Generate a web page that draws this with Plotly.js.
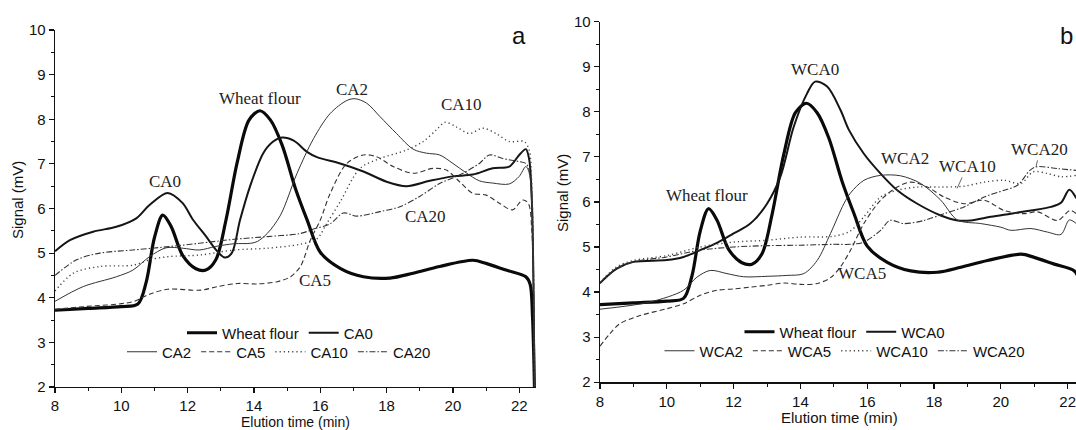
<!DOCTYPE html>
<html>
<head>
<meta charset="utf-8">
<script src="https://cdn.plot.ly/plotly-3.0.1.min.js"></script>
<style>html,body{margin:0;padding:0;background:#fff;}#chart{width:1076px;height:430px;}</style>
</head>
<body>
<div id="chart"></div>
<script>
// ---- Data ----
const xWheat = [8, 9, 10, 10.5, 10.75, 11.0, 11.25, 11.5, 11.85, 12.25, 12.55, 12.85, 13.15, 13.5, 13.85, 14.18, 14.5, 14.85, 15.25, 15.6, 16.0, 16.6, 17.3, 18.1, 18.8, 19.6, 20.6, 21.0, 21.6, 22.2, 22.33, 22.4, 22.46];
const yWheat = [3.72, 3.76, 3.8, 3.86, 4.35, 5.35, 5.85, 5.6, 4.95, 4.65, 4.62, 4.85, 5.72, 7.05, 7.98, 8.19, 7.98, 7.42, 6.45, 5.75, 5.02, 4.66, 4.47, 4.44, 4.55, 4.7, 4.84, 4.77, 4.62, 4.47, 4.3, 3.6, 2.0];

const xCA0 = [8, 8.45, 9.15, 9.85, 10.45, 10.85, 11.4, 11.85, 12.15, 12.55, 12.85, 13.12, 13.33, 13.58, 13.88, 14.28, 14.58, 14.85, 15.2, 15.6, 15.9, 16.6, 17.3, 18.0, 18.6, 19.3, 20.0, 20.6, 21.2, 21.7, 22.0, 22.2, 22.3, 22.38, 22.46];
const yCA0 = [5.04, 5.29, 5.48, 5.59, 5.78, 6.08, 6.35, 6.12, 5.76, 5.38, 5.08, 4.9, 5.0, 5.74, 6.49, 7.24, 7.5, 7.59, 7.52, 7.27, 7.15, 7.01, 6.83, 6.6, 6.5, 6.62, 6.72, 6.76, 6.9, 6.94, 7.2, 7.33, 7.1, 6.2, 2.0];

const xCA2 = [8, 8.85, 9.85, 10.35, 10.85, 11.35, 11.85, 12.35, 12.85, 13.4, 13.9, 14.1, 14.4, 14.8, 15.3, 15.8, 16.3, 16.8, 17.05, 17.4, 17.8, 18.3, 18.8, 19.2, 19.6, 20.0, 20.4, 20.8, 21.2, 21.7, 22.0, 22.2, 22.3, 22.38, 22.46];
const yCA2 = [3.92, 4.25, 4.47, 4.62, 4.92, 5.12, 5.11, 5.07, 5.15, 5.21, 5.22, 5.26, 5.44, 5.85, 6.79, 7.57, 8.13, 8.42, 8.46, 8.36, 8.06, 7.68, 7.33, 7.24, 7.2, 7.01, 6.8, 6.62, 6.57, 6.55, 6.72, 6.94, 6.8, 6.0, 2.0];

const xCA5 = [8, 8.85, 10.35, 10.85, 11.4, 12.4, 12.9, 13.5, 14.1, 14.7, 15.1, 15.4, 15.7, 16.0, 16.3, 16.8, 17.3, 17.7, 18.2, 18.8, 19.4, 19.8, 20.2, 20.6, 21.0, 21.4, 21.8, 22.1, 22.27, 22.38, 22.46];
const yCA5 = [3.74, 3.8, 3.91, 4.08, 4.19, 4.17, 4.25, 4.32, 4.31, 4.36, 4.47, 4.7, 5.29, 5.74, 6.34, 7.01, 7.2, 7.16, 6.94, 6.79, 6.9, 6.86, 6.6, 6.34, 6.3, 6.12, 5.97, 6.19, 6.12, 5.5, 2.0];

const xCA10 = [8, 8.55, 9.35, 10.35, 10.85, 11.4, 12.4, 13.4, 14.4, 15.4, 15.9, 16.2, 16.6, 17.2, 17.8, 18.6, 19.1, 19.5, 19.76, 20.1, 20.5, 20.9, 21.3, 21.7, 22.15, 22.3, 22.38, 22.46];
const yCA10 = [4.15, 4.55, 4.7, 4.73, 4.85, 4.92, 4.96, 5.07, 5.11, 5.2, 5.32, 5.67, 6.15, 6.9, 7.12, 7.31, 7.5, 7.76, 7.93, 7.83, 7.68, 7.8, 7.68, 7.5, 7.5, 7.31, 6.5, 2.0];

const xCA20 = [8, 8.65, 9.35, 10.35, 11.35, 12.35, 13.4, 14.4, 15.4, 15.8, 16.3, 16.7, 17.1, 17.8, 18.4, 19.0, 19.6, 20.2, 20.8, 21.1, 21.5, 22.0, 22.2, 22.3, 22.38, 22.46];
const yCA20 = [4.5, 4.85, 5.0, 5.07, 5.14, 5.22, 5.31, 5.37, 5.44, 5.54, 5.66, 5.9, 5.83, 5.93, 6.04, 6.27, 6.56, 6.75, 7.01, 7.2, 7.12, 7.05, 7.01, 6.86, 6.3, 2.0];

const xWCA0 = [8, 8.5, 9, 10, 10.5, 11, 11.5, 12, 12.5, 13, 13.4, 13.8, 14.2, 14.44, 14.8, 15.2, 15.45, 15.9, 16.4, 16.9, 17.5, 18.2, 18.7, 19.1, 19.7, 20.3, 20.9, 21.5, 21.8, 22.05, 22.26];
const yWCA0 = [4.2, 4.52, 4.67, 4.71, 4.78, 4.93, 5.09, 5.3, 5.52, 5.96, 6.56, 7.67, 8.41, 8.67, 8.56, 8.04, 7.6, 7.07, 6.63, 6.26, 5.96, 5.7, 5.59, 5.59, 5.67, 5.74, 5.81, 5.89, 5.98, 6.27, 6.08];

const xWCA2 = [8, 9.5, 10.5, 10.9, 11.3, 11.8, 12.3, 13.0, 13.6, 14.1, 14.5, 14.9, 15.3, 15.5, 15.9, 16.4, 17.0, 17.6, 18.2, 18.7, 19.4, 20.0, 20.3, 20.9, 21.4, 21.8, 22.05, 22.26];
const yWCA2 = [3.62, 3.78, 4.04, 4.33, 4.48, 4.41, 4.34, 4.35, 4.37, 4.41, 4.7, 5.3, 5.96, 6.2, 6.48, 6.59, 6.58, 6.41, 6.04, 5.6, 5.52, 5.44, 5.37, 5.41, 5.33, 5.28, 5.6, 5.52];

const xWCA5 = [8, 8.3, 8.6, 9.2, 10, 10.5, 11, 11.5, 12, 12.5, 13, 13.5, 14, 14.5, 14.9, 15.2, 15.5, 15.9, 16.4, 16.9, 17.3, 17.8, 18.3, 18.9, 19.5, 20.1, 20.7, 21.1, 21.7, 22.07, 22.26];
const yWCA5 = [2.8, 3.08, 3.3, 3.48, 3.63, 3.74, 3.93, 4.04, 4.07, 4.11, 4.15, 4.2, 4.17, 4.19, 4.32, 4.56, 4.93, 5.52, 6.04, 6.33, 6.44, 6.33, 6.11, 5.96, 6.04, 5.81, 5.74, 5.78, 5.59, 5.81, 5.74];

const xWCA10 = [8, 8.5, 9, 10, 11, 12, 13, 14, 15, 15.5, 15.9, 16.4, 16.9, 17.5, 18.2, 18.9, 19.5, 20.1, 20.6, 20.97, 21.4, 21.8, 22.26];
const yWCA10 = [4.22, 4.56, 4.7, 4.81, 5.0, 5.11, 5.15, 5.22, 5.24, 5.36, 5.67, 6.11, 6.26, 6.33, 6.33, 6.35, 6.44, 6.48, 6.41, 6.67, 6.63, 6.56, 6.59];

const xWCA20 = [8, 8.5, 9, 10, 11, 12, 13, 14, 15, 15.5, 15.9, 16.4, 16.68, 17.1, 17.7, 18.3, 18.9, 19.5, 20.1, 20.5, 20.87, 21.07, 21.7, 22.26];
const yWCA20 = [4.19, 4.52, 4.67, 4.78, 4.93, 5.0, 5.03, 5.04, 5.06, 5.06, 5.11, 5.37, 5.59, 5.52, 5.59, 5.74, 5.89, 6.11, 6.26, 6.37, 6.7, 6.78, 6.74, 6.7];

const namesA = ["Wheat flour", "CA0", "CA2", "CA5", "CA10", "CA20"];
const namesB = ["Wheat flour", "WCA0", "WCA2", "WCA5", "WCA10", "WCA20"];
const xTickVals = [8, 10, 12, 14, 16, 18, 20, 22];
const yTickVals = [2, 3, 4, 5, 6, 7, 8, 9, 10];
const xTitle = 'Elution time (min)';
const yTitle = 'Signal (mV)';

// ---- Styles ----
const INK = '#111';
const styles = [
  {width: 3.2, color: '#0a0a0a', dash: 'solid'},
  {width: 2.0, color: '#151515', dash: 'solid'},
  {width: 1.0, color: '#333', dash: 'solid'},
  {width: 1.1, color: '#333', dash: '5px,3px'},
  {width: 1.4, color: '#444', dash: '1.2px,3px'},
  {width: 1.1, color: '#333', dash: '6px,2px,1.5px,2px'}
];
const xsA = [xWheat, xCA0, xCA2, xCA5, xCA10, xCA20];
const ysA = [yWheat, yCA0, yCA2, yCA5, yCA10, yCA20];
const xsB = [xWheat, xWCA0, xWCA2, xWCA5, xWCA10, xWCA20];
const ysB = [yWheat, yWCA0, yWCA2, yWCA5, yWCA10, yWCA20];

const traces = [];
namesA.forEach((n, i) => {
  traces.push({type: 'scatter', mode: 'lines', name: n, x: xsA[i], y: ysA[i],
    xaxis: 'x', yaxis: 'y', legend: i < 2 ? 'legend' : 'legend2',
    line: {shape: 'spline', smoothing: 0.9, width: styles[i].width, color: styles[i].color, dash: styles[i].dash},
    hoverinfo: 'skip'});
});
namesB.forEach((n, i) => {
  traces.push({type: 'scatter', mode: 'lines', name: n, x: xsB[i], y: ysB[i],
    xaxis: 'x2', yaxis: 'y2', legend: i < 2 ? 'legend3' : 'legend4',
    line: {shape: 'spline', smoothing: 0.9, width: styles[i].width, color: styles[i].color, dash: styles[i].dash},
    hoverinfo: 'skip'});
});

const SANS = 'Liberation Sans, Arial, sans-serif';
const SERIF = 'Liberation Serif, Times New Roman, serif';

function xAxis(domain, range, anchor) {
  return {domain: domain, range: range, anchor: anchor, showline: true, linecolor: INK, linewidth: 1.3,
    ticks: 'outside', ticklen: 5, tickwidth: 1.2, tickcolor: INK, tickmode: 'array', tickvals: xTickVals,
    minor: {dtick: 1, tick0: 8, ticks: 'outside', ticklen: 3, tickwidth: 1, tickcolor: INK},
    showgrid: false, zeroline: false, tickfont: {family: SANS, size: 15, color: INK}};
}
function yAxis(domain, anchor) {
  return {domain: domain, range: [2, 10], anchor: anchor, showline: true, linecolor: INK, linewidth: 1.3,
    ticks: 'outside', ticklen: 5, tickwidth: 1.2, tickcolor: INK, tickmode: 'array', tickvals: yTickVals,
    minor: {dtick: 0.5, tick0: 2, ticks: 'outside', ticklen: 3, tickwidth: 1, tickcolor: INK},
    showgrid: false, zeroline: false, tickfont: {family: SANS, size: 15, color: INK}};
}
function legendAt(x, y) {
  return {orientation: 'h', x: x, xanchor: 'center', y: y, yanchor: 'middle', bgcolor: 'rgba(0,0,0,0)',
    font: {family: SANS, size: 15, color: INK}, itemwidth: 30, tracegroupgap: 0, borderwidth: 0};
}
function lab(text, x, y, xref, yref, extra) {
  return Object.assign({text: text, x: x, y: y, xref: xref, yref: yref, showarrow: false,
    font: {family: SERIF, size: 17, color: '#222'}}, extra || {});
}
function paperText(text, px, py, size, angle) {
  return {text: text, x: px / 1076, y: (430 - py) / 430, xref: 'paper', yref: 'paper', showarrow: false,
    xanchor: 'center', yanchor: 'middle', textangle: angle || 0, borderpad: 0,
    font: {family: SANS, size: size, color: INK}};
}

const annotations = [
  lab('CA0', 11.32, 6.6, 'x', 'y'),
  lab('Wheat flour', 14.18, 8.47, 'x', 'y'),
  lab('CA2', 16.95, 8.67, 'x', 'y'),
  lab('CA10', 20.26, 8.32, 'x', 'y'),
  lab('CA20', 19.16, 5.83, 'x', 'y'),
  lab('CA5', 15.84, 4.38, 'x', 'y'),
  lab('Wheat flour', 11.19, 6.15, 'x2', 'y2'),
  lab('WCA0', 14.44, 8.93, 'x2', 'y2'),
  lab('WCA2', 17.13, 6.96, 'x2', 'y2'),
  lab('WCA10', 18.69, 6.3, 'x2', 'y2', {showarrow: true, arrowhead: 0, arrowwidth: 0.8, arrowcolor: '#444', ax: 10, ay: -22, standoff: 0}),
  lab('WCA20', 21.05, 6.77, 'x2', 'y2', {showarrow: true, arrowhead: 0, arrowwidth: 0.8, arrowcolor: '#444', ax: 4, ay: -18, standoff: 0}),
  lab('WCA5', 15.83, 4.41, 'x2', 'y2'),
  paperText('a', 519, 36, 24),
  paperText('b', 1066, 36, 24),
  paperText(yTitle, 17, 200, 15, -90),
  paperText(yTitle, 562, 193, 15, -90),
  paperText(xTitle, 295, 421.5, 14),
  paperText(xTitle, 839, 417, 15)
];

const layout = {
  width: 1076, height: 430,
  margin: {l: 0, r: 0, t: 0, b: 0},
  paper_bgcolor: '#fff', plot_bgcolor: '#fff',
  showlegend: true,
  xaxis: xAxis([55 / 1076, 535.8 / 1076], [8, 22.5], 'y'),
  yaxis: yAxis([43 / 430, 400 / 430], 'x'),
  xaxis2: xAxis([600 / 1076, 1], [8, 22.25], 'y2'),
  yaxis2: yAxis([47.8 / 430, 408.3 / 430], 'x2'),
  legend: legendAt(280 / 1076, (430 - 333) / 430),
  legend2: legendAt(279 / 1076, (430 - 352) / 430),
  legend3: legendAt(845 / 1076, (430 - 332) / 430),
  legend4: legendAt(845 / 1076, (430 - 351) / 430),
  annotations: annotations
};

Plotly.newPlot('chart', traces, layout, {staticPlot: true, displayModeBar: false});
</script>
</body>
</html>
